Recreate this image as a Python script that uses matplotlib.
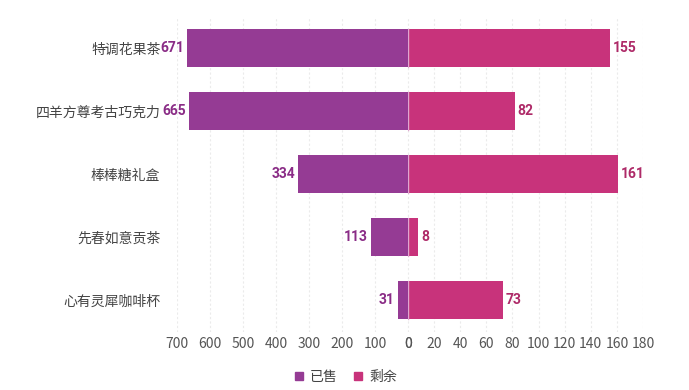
import matplotlib
matplotlib.use("Agg")
import matplotlib.pyplot as plt
import numpy as np
from matplotlib.lines import Line2D
from matplotlib import font_manager

plt.rcParams['font.family'] = ['Noto Sans CJK SC', 'DejaVu Sans']

categories = ['特调花果茶', '四羊方尊考古巧克力', '棒棒糖礼盒', '先春如意贡茶', '心有灵犀咖啡杯']
sold = [671, 665, 334, 113, 31]
remaining = [155, 82, 161, 8, 73]
series_names = ['已售', '剩余']
left_ticks = [700, 600, 500, 400, 300, 200, 100, 0]
right_ticks = [0, 20, 40, 60, 80, 100, 120, 140, 160, 180]

c_sold = '#953B94'
c_rem = '#C8337B'
c_sold_txt = '#8A2C86'
c_rem_txt = '#AE2A68'
tick_col = '#555555'
grid_col = '#ebebeb'

names = {f.name for f in font_manager.fontManager.ttflist}
num_family = ['Liberation Sans Narrow', 'Roboto', 'DejaVu Sans'] if 'Liberation Sans Narrow' in names else ['Roboto', 'DejaVu Sans']
num_size = 11 if 'Liberation Sans Narrow' in names else 10

W, H = 689, 390
fig = plt.figure(figsize=(W / 100, H / 100), dpi=100)

bottom = 1 - 331.5 / H
height = 315 / H
axL = fig.add_axes([177 / W, bottom, 231 / W, height])
axR = fig.add_axes([408 / W, bottom, 235 / W, height])

y = np.arange(len(categories))[::-1]
bh = 0.59

for ax in (axL, axR):
    for s in ax.spines.values():
        s.set_visible(False)
    ax.set_ylim(-0.5, len(categories) - 0.5)
    ax.tick_params(axis='x', length=0, pad=4, labelsize=10, colors=tick_col)
    ax.set_axisbelow(True)
    ax.grid(axis='x', color=grid_col, linestyle=(0, (2, 2)), linewidth=0.8)
    ax.grid(axis='y', visible=False)

axL.set_xlim(700, 0)
axR.set_xlim(0, 180)
axL.set_xticks(left_ticks)
axL.set_xticklabels([str(t) for t in left_ticks])
axR.set_xticks(right_ticks)
axR.set_xticklabels([str(t) for t in right_ticks])

axL.barh(y, sold, height=bh, color=c_sold, zorder=2)
axR.barh(y, remaining, height=bh, color=c_rem, zorder=2)

axL.set_yticks(y)
axL.set_yticklabels(categories, fontsize=10, color='#444444')
axL.tick_params(axis='y', length=0, pad=12)
axR.set_yticks([])

for yi, v in zip(y, sold):
    axL.annotate(str(v), (v, yi), xytext=(-2, 0), textcoords='offset points',
                 ha='right', va='center', fontsize=num_size, fontweight='bold',
                 color=c_sold_txt, family=num_family)
for yi, v in zip(y, remaining):
    axR.annotate(str(v), (v, yi), xytext=(2, 0), textcoords='offset points',
                 ha='left', va='center', fontsize=num_size, fontweight='bold',
                 color=c_rem_txt, family=num_family)

# thin separator at zero
for yi in y:
    axR.plot([0, 0], [yi - bh / 2, yi + bh / 2], color='#e0a6d0', lw=1, zorder=3)

handles = [Line2D([0], [0], marker='s', linestyle='none', markersize=6,
                  markerfacecolor=c_sold, markeredgecolor=c_sold),
           Line2D([0], [0], marker='s', linestyle='none', markersize=6,
                  markerfacecolor=c_rem, markeredgecolor=c_rem)]
leg = fig.legend(handles, series_names, loc='center', bbox_to_anchor=(0.5, 1 - 377 / H),
                 ncol=2, frameon=False, fontsize=10, handletextpad=0.3,
                 columnspacing=1.0, handlelength=1.0)
for t in leg.get_texts():
    t.set_color('#444444')

fig.savefig('out.png', dpi=100, facecolor='white')
